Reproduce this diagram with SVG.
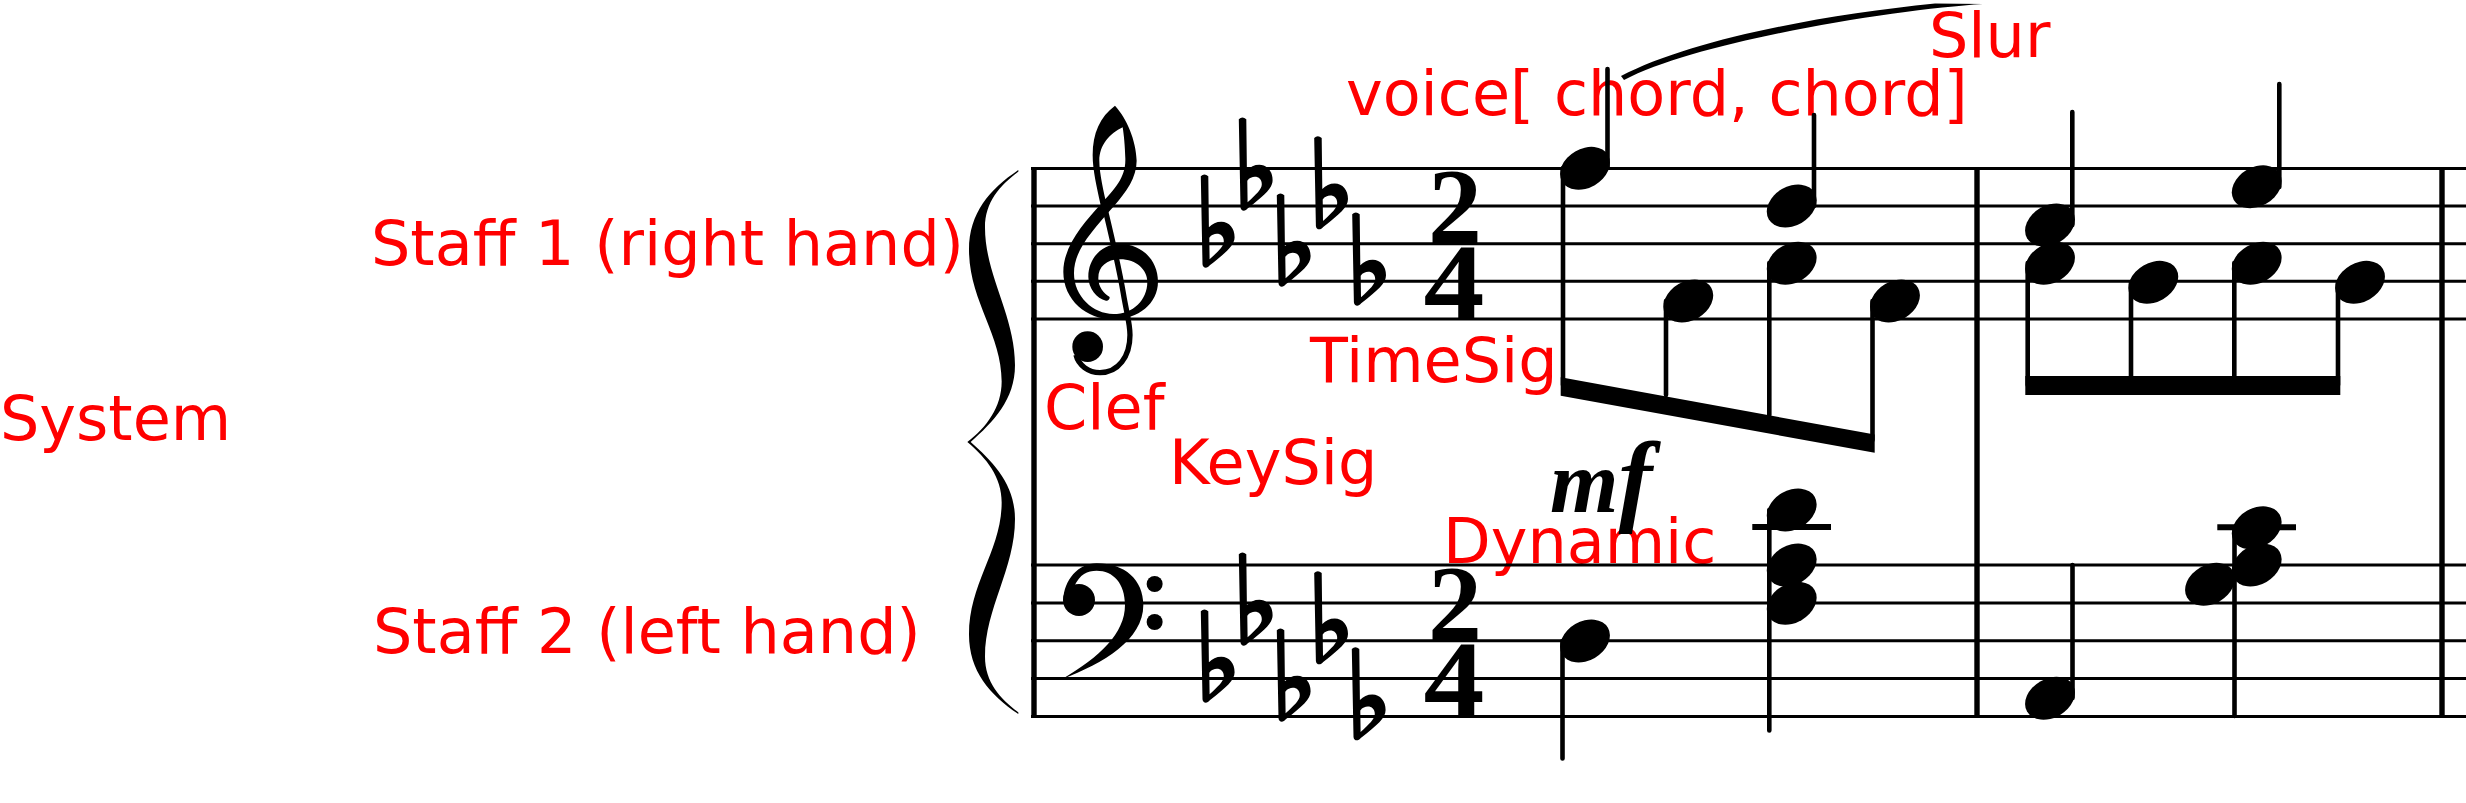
<svg xmlns="http://www.w3.org/2000/svg" width="2466" height="803" viewBox="0 0 2466 803">
<style>
.lbl{font-family:"DejaVu Sans",sans-serif;font-size:62px;fill:#f00}
.ln{stroke:#000;stroke-width:3;fill:none}
.bar{stroke:#000;stroke-width:5.4;fill:none}
.st{stroke:#000;stroke-width:4.6;fill:none;stroke-linecap:round}
.led{stroke:#000;stroke-width:6;fill:none}
.ts{font-family:"Liberation Serif",serif;font-weight:bold;font-size:108px;fill:#000;text-anchor:middle}
.dyn{font-family:"Liberation Serif",serif;font-weight:bold;font-style:italic;font-size:88px;fill:#000}
</style>
<defs>
<ellipse id="nh" cx="0" cy="0" rx="26.5" ry="19.5" transform="rotate(-30)"/>
<path id="flat" fill-rule="evenodd" d="M-3.5,2Q0,-1.5 4,2L4.6,53C8,49.5 12,47.5 17,47.5C25,47.5 30.3,54 30.3,63C30.3,71 22,78 5.5,91C3,94.5 -1.5,94 -1.8,90Z M5,63.5C7,60.5 10,59.5 12.5,59.5C16.5,59.5 19.5,62 19.5,67C19.5,72 14,77 5.3,85Z"/>
</defs>
<g id="labels">
<text class="lbl" x="0" y="440">System</text>
<text class="lbl" x="371" y="265">Staff 1 (right hand)</text>
<text class="lbl" x="373" y="653">Staff 2 (left hand)</text>
<text class="lbl" x="1044" y="429">Clef</text>
<text class="lbl" x="1169" y="484">KeySig</text>
<text class="lbl" x="1310" y="382">TimeSig</text>
<text class="lbl" x="1443" y="563">Dynamic</text>
<text class="lbl" x="1346" y="115">voice[ chord, chord]</text>
<text class="lbl" x="1929" y="57">Slur</text>
</g>
<g id="staff1">
<path class="ln" d="M1031,168.5H2466M1031,206H2466M1031,243.7H2466M1031,281.3H2466M1031,319H2466"/>
</g>
<g id="staff2">
<path class="ln" d="M1031,565H2466M1031,603H2466M1031,640.8H2466M1031,678.6H2466M1031,716.5H2466"/>
</g>
<g id="barlines">
<path class="bar" d="M1034,167V718M1977,168V718M2442,168V718"/>
</g>
<g id="brace" transform="translate(950,157.9) scale(.3333,.3666)">
<path d="M205,33C120,85 57,150 57,250C57,390 155,480 155,610C155,680 110,735 52,775C110,820 155,870 155,940C155,1070 57,1160 57,1300C57,1400 120,1465 205,1517L205,1512C150,1475 105,1430 105,1360C105,1230 195,1120 195,985C195,890 130,830 62,775C130,720 195,660 195,565C195,430 105,320 105,190C105,120 150,75 205,38Z"/>
</g>
<g id="treble-clef" transform="translate(950,90) scale(.3333)">
<path d="M495,47C530,85 558,150 560,212C560,262 530,305 490,350C425,425 372,480 372,550C372,620 430,672 490,672C550,672 592,630 592,575C592,540 560,508 510,508C470,508 445,530 445,565C445,590 460,610 478,620C482,626 474,634 468,632C440,625 415,595 415,560C415,505 455,462 510,462C575,462 624,510 624,575C624,640 565,688 490,688C410,688 340,630 340,545C340,470 400,400 455,340C495,295 528,262 526,205C525,170 522,135 518,112C480,130 448,165 448,212C448,250 462,310 470,345L452,345C440,290 428,240 428,195C428,130 450,80 495,47Z"/>
<path d="M460,335C480,420 505,520 520,610C530,670 540,700 540,735C540,800 505,848 450,848C415,848 385,825 378,795" fill="none" stroke="#000" stroke-width="16"/>
<circle cx="413" cy="770" r="46"/>
</g>
<g id="bass-clef" transform="translate(1000,530) scale(.3333)">
<path d="M187,447C310,400 430,330 430,225C430,150 375,100 290,100C235,100 192,150 190,210L222,170C240,132 262,122 290,122C340,122 375,160 375,225C375,310 300,380 187,447Z"/>
<circle cx="237" cy="210" r="48"/>
<circle cx="464" cy="162" r="24"/>
<circle cx="464" cy="276" r="24"/>
</g>
<g id="keysig1">
<use href="#flat" x="1204.3" y="174.3"/><use href="#flat" x="1242.3" y="117.3"/><use href="#flat" x="1280.3" y="193.3"/><use href="#flat" x="1317.7" y="136"/><use href="#flat" x="1355.7" y="212.3"/>
</g>
<g id="keysig2">
<use href="#flat" x="1204.3" y="609.3"/><use href="#flat" x="1242.3" y="552.3"/><use href="#flat" x="1280.3" y="628.3"/><use href="#flat" x="1317.7" y="571"/><use href="#flat" x="1355.3" y="647"/>
</g>
<g id="timesig1">
<text class="ts" x="1455" y="243">2</text>
<text class="ts" transform="translate(1454,319) scale(1.13,1)">4</text>
</g>
<g id="timesig2">
<text class="ts" x="1455" y="640">2</text>
<text class="ts" transform="translate(1454,716) scale(1.13,1)">4</text>
</g>
<g id="dynamic"><text class="dyn" x="1550" y="512">m<tspan font-size="102">f</tspan></text></g>
<g id="slur"><path d="M1621,76C1690,40 1820,15 1935,3.5L1983,4C1900,9 1700,40 1624,80Z"/></g>
<g id="voice1-m1">
<path class="st" d="M1607.5,69V168M1814,115V206M1563,168V385M1666,301V395M1769.3,263V415M1872.5,301V440"/>
<polygon points="1560.7,377.3 1874.7,434.5 1874.7,452.7 1560.7,395.7"/>
<use href="#nh" x="1585" y="168.3"/><use href="#nh" x="1791.7" y="206"/><use href="#nh" x="1688.3" y="301"/><use href="#nh" x="1791.7" y="263.3"/><use href="#nh" x="1895" y="301"/>
</g>
<g id="voice1-m2">
<path class="st" d="M2072.3,112V225M2279.3,84V187M2027.7,263V385M2131,282V385M2234.3,263V385M2338,282V385"/>
<rect x="2025.3" y="376" width="315" height="19"/>
<use href="#nh" x="2050" y="225"/><use href="#nh" x="2050" y="263.3"/><use href="#nh" x="2153.3" y="282.3"/><use href="#nh" x="2256.7" y="186.7"/><use href="#nh" x="2256.7" y="263.3"/><use href="#nh" x="2360" y="282.3"/>
</g>
<g id="voice2-m1">
<path class="led" d="M1752.3,527H1831"/>
<path class="st" d="M1562.5,641V758.5M1769.3,510V730.5"/>
<use href="#nh" x="1585" y="641"/><use href="#nh" x="1791.7" y="510"/><use href="#nh" x="1791.7" y="565"/><use href="#nh" x="1791.7" y="603.3"/>
</g>
<g id="voice2-m2">
<path class="led" d="M2217.3,527.3H2296"/>
<path class="st" d="M2072.5,565V698M2234.5,530V716"/>
<use href="#nh" x="2050" y="698.3"/><use href="#nh" x="2256.7" y="527.7"/><use href="#nh" x="2256.7" y="565"/><use href="#nh" x="2210" y="584.3"/>
</g>
</svg>
